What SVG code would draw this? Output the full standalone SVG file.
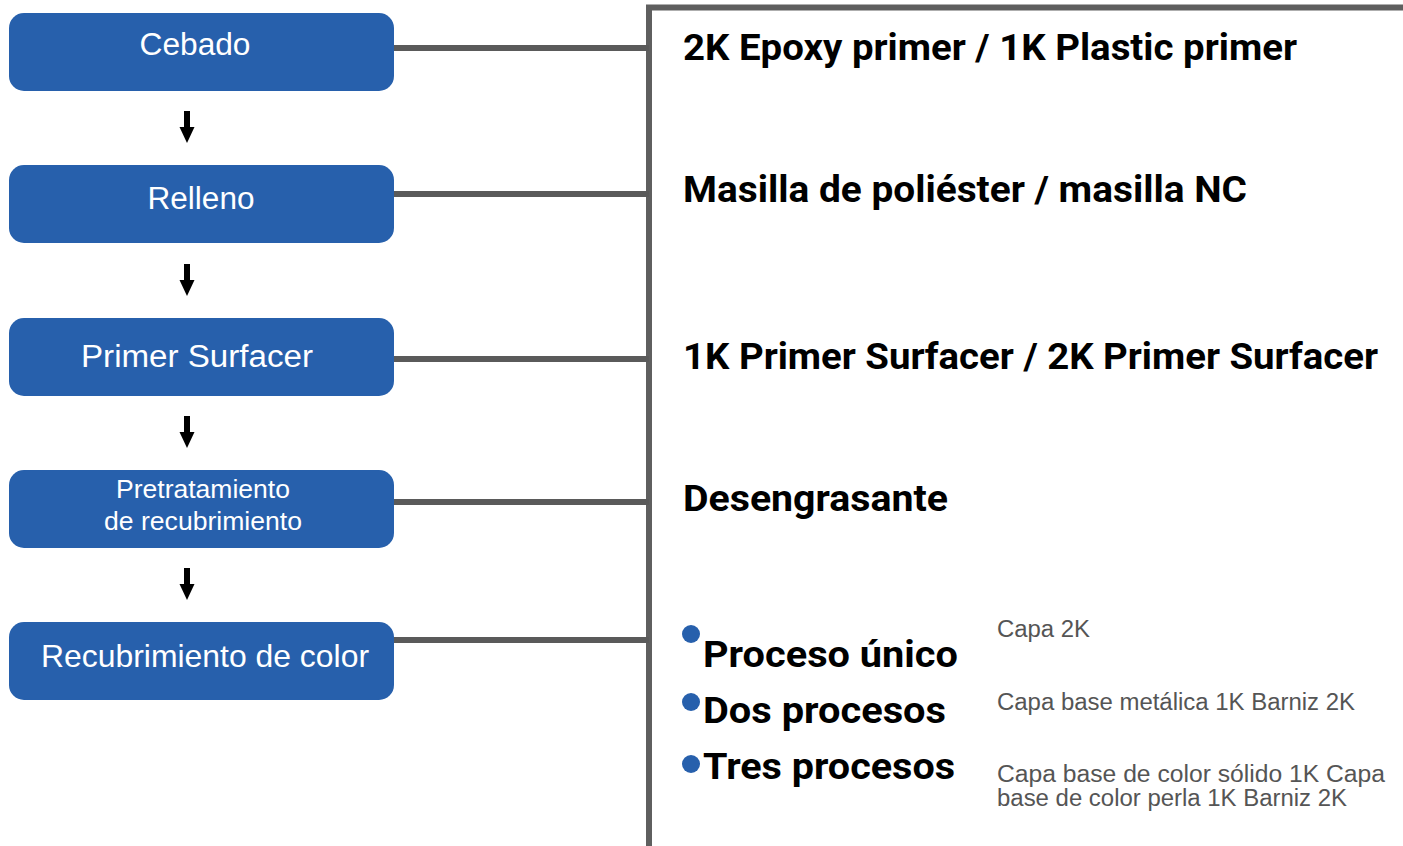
<svg xmlns="http://www.w3.org/2000/svg" width="1403" height="846" viewBox="0 0 1403 846">
<style>
.box{fill:#2760AC;}
.bt{fill:#fff;font-family:"Liberation Sans",Arial,sans-serif;text-anchor:middle;}
.conn{stroke:#5a5a5a;stroke-width:6;fill:none;}
.frame{stroke:#5f5f5f;stroke-width:6;fill:none;}
.head{font-family:Roboto,"Liberation Sans",sans-serif;font-weight:bold;font-size:37px;fill:#000;}
.sub{font-family:"Liberation Sans",Arial,sans-serif;font-size:23px;fill:#555;}
.dot{fill:#2760AC;}
.arr{fill:#000;}
</style>
<defs>
<path id="arrow" d="M-3,0 H3 V16 H7.5 L0,32 L-7.5,16 H-3 Z"/>
</defs>
<rect width="1403" height="846" fill="#fff"/>
<g id="connectors">
<path class="frame" d="M649,846 V7.5 H1403"/>
<line class="conn" x1="393" y1="48" x2="649" y2="48"/>
<line class="conn" x1="393" y1="194" x2="649" y2="194"/>
<line class="conn" x1="393" y1="359" x2="649" y2="359"/>
<line class="conn" x1="393" y1="502" x2="649" y2="502"/>
<line class="conn" x1="393" y1="640" x2="649" y2="640"/>
<use href="#arrow" class="arr" x="187" y="111"/>
<use href="#arrow" class="arr" x="187" y="264"/>
<use href="#arrow" class="arr" x="187" y="416"/>
<use href="#arrow" class="arr" x="187" y="568"/>
</g>
<g id="n1">
<rect class="box" x="9" y="13" width="385" height="78" rx="15"/>
<text class="bt" x="195" y="55" font-size="31" textLength="111" lengthAdjust="spacingAndGlyphs">Cebado</text>
</g>
<g id="n2">
<rect class="box" x="9" y="165" width="385" height="78" rx="15"/>
<text class="bt" x="201" y="209" font-size="31" textLength="107" lengthAdjust="spacingAndGlyphs">Relleno</text>
</g>
<g id="n3">
<rect class="box" x="9" y="318" width="385" height="78" rx="15"/>
<text class="bt" x="197" y="367" font-size="31" textLength="232" lengthAdjust="spacingAndGlyphs">Primer Surfacer</text>
</g>
<g id="n4">
<rect class="box" x="9" y="470" width="385" height="78" rx="15"/>
<text class="bt" x="203" y="498" font-size="25" textLength="174" lengthAdjust="spacingAndGlyphs">Pretratamiento</text>
<text class="bt" x="203" y="530" font-size="25" textLength="198" lengthAdjust="spacingAndGlyphs">de recubrimiento</text>
</g>
<g id="n5">
<rect class="box" x="9" y="622" width="385" height="78" rx="15"/>
<text class="bt" x="205" y="667" font-size="32" textLength="328" lengthAdjust="spacingAndGlyphs">Recubrimiento de color</text>
</g>
<g id="r1"><text class="head" x="683" y="60" textLength="614" lengthAdjust="spacingAndGlyphs">2K Epoxy primer / 1K Plastic primer</text></g>
<g id="r2"><text class="head" x="683" y="202" textLength="564" lengthAdjust="spacingAndGlyphs">Masilla de poliéster / masilla NC</text></g>
<g id="r3"><text class="head" x="683" y="369" textLength="695" lengthAdjust="spacingAndGlyphs">1K Primer Surfacer / 2K Primer Surfacer</text></g>
<g id="r4"><text class="head" x="683" y="511" textLength="265" lengthAdjust="spacingAndGlyphs">Desengrasante</text></g>
<g id="r5">
<circle class="dot" cx="691" cy="634" r="9"/>
<circle class="dot" cx="691" cy="702" r="9"/>
<circle class="dot" cx="691" cy="764" r="9"/>
<text class="head" x="703" y="667" textLength="255" lengthAdjust="spacingAndGlyphs">Proceso único</text>
<text class="head" x="703" y="723" textLength="243" lengthAdjust="spacingAndGlyphs">Dos procesos</text>
<text class="head" x="703" y="779" textLength="252" lengthAdjust="spacingAndGlyphs">Tres procesos</text>
<text class="sub" x="997" y="637" textLength="93" lengthAdjust="spacingAndGlyphs">Capa 2K</text>
<text class="sub" x="997" y="710" textLength="358" lengthAdjust="spacingAndGlyphs">Capa base metálica 1K Barniz 2K</text>
<text class="sub" x="997" y="782" textLength="388" lengthAdjust="spacingAndGlyphs">Capa base de color sólido 1K Capa</text>
<text class="sub" x="997" y="806" textLength="350" lengthAdjust="spacingAndGlyphs">base de color perla 1K Barniz 2K</text>
</g>
</svg>
